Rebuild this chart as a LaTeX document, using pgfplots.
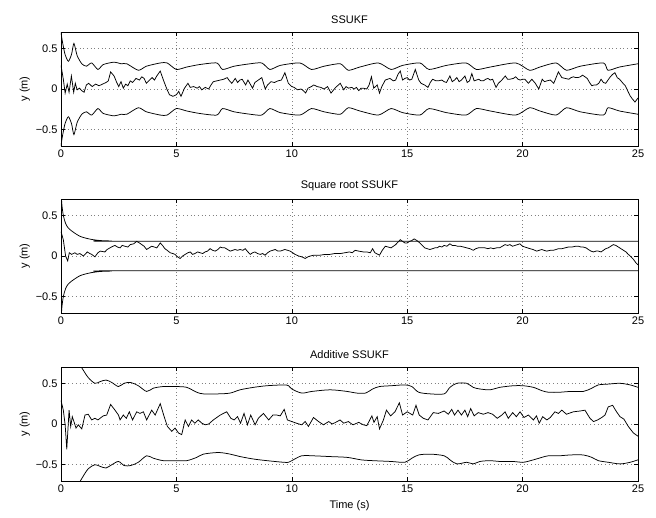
\documentclass[border=0pt]{standalone}
\usepackage{pgfplots}
\pgfplotsset{compat=1.18}
\usepackage{fontspec}
\setmainfont{Liberation Sans}

\pgfplotsset{
 cur/.style={black, line width=0.75pt, mark=none},
 myax/.style={
  width=577pt,height=114pt,scale only axis,
  xmin=0,xmax=25,ymin=-0.7,ymax=0.7,
  xtick={0,5,10,15,20,25},
  ytick={-0.5,0,0.5}, yticklabels={−0.5,0,0.5},
  grid=major, grid style={dash pattern=on 0.7pt off 3pt, black!50, line width=0.6pt},
  tick align=inside, major tick length=4pt,
  axis line style={line width=0.8pt},
  every tick/.style={black,line width=0.5pt},
  tick label style={font=\fontsize{11}{13}\selectfont},
  label style={font=\fontsize{11}{13}\selectfont},
  title style={font=\fontsize{11}{13}\selectfont, yshift=-1pt},
  /pgf/number format/assume math mode=true,
  ylabel={y (m)},
  ylabel style={yshift=-1pt},
  anchor=north west,
 }
}

\begin{document}
\begin{tikzpicture}
\useasboundingbox (-61pt,32pt) rectangle (595pt,-485pt);

%%%%%%%%%%%%%%%% SSUKF
\begin{axis}[myax, at={(0pt,0pt)}, title={SSUKF}]
\addplot[cur] table {
x y
0 0.29
0.1 0.12
0.18 -0.05
0.27 0.06
0.35 -0.04
0.45 0.16
0.55 -0.04
0.62 0.07
0.7 -0.01
0.8 0.01
0.9 -0.02
1.0 -0.04
1.1 0.05
1.2 0.07
1.35 0.03
1.5 0.06
1.65 0.04
1.8 0.06
1.95 0.08
2.05 0.1
2.15 0.21
2.3 0.16
2.4 0.09
2.5 0.03
2.6 0.09
2.7 0.01
2.8 0.06
2.9 0.04
3.0 0.1
3.1 0.08
3.25 0.13
3.4 0.11
3.5 0.15
3.6 0.13
3.7 0.07
3.8 0.1
3.95 0.14
4.05 0.11
4.15 0.16
4.3 0.22
4.45 0.1
4.6 -0.01
4.7 -0.07
4.85 -0.09
5.0 -0.07
5.1 -0.03
5.2 -0.09
5.35 0.01
5.5 0.07
5.6 0.02
5.75 0.03
5.9 0.01
6.0 0.03
6.1 -0.01
6.25 0.02
6.4 0.0
6.5 0.05
6.6 0.09
6.75 0.1
6.9 0.11
7.05 0.12
7.2 0.14
7.3 0.1
7.4 0.07
7.55 0.13
7.65 0.08
7.75 0.11
7.85 0.12
8.0 0.05
8.1 0.11
8.2 0.06
8.3 0.01
8.4 0.08
8.55 0.11
8.7 0.14
8.85 0.0
8.95 0.05
9.1 0.09
9.25 0.08
9.4 0.1
9.55 0.11
9.7 0.2
9.85 0.07
10.0 0.03
10.1 0.02
10.25 -0.01
10.4 0.0
10.5 -0.02
10.6 -0.05
10.7 0.01
10.85 0.03
10.95 0.05
11.1 0.03
11.25 0.02
11.4 0.0
11.55 0.03
11.7 -0.05
11.9 0.02
12.1 0.07
12.25 -0.01
12.35 0.03
12.45 0.01
12.6 0.02
12.7 0.0
12.8 0.02
12.9 -0.02
13.0 0.01
13.1 0.01
13.25 0.0
13.35 0.05
13.45 0.15
13.55 0.01
13.7 0.05
13.8 -0.05
13.9 0.03
14.05 0.11
14.15 0.12
14.25 0.13
14.4 0.1
14.5 0.11
14.6 0.18
14.7 0.22
14.8 0.11
14.9 0.13
15.0 0.14
15.1 0.11
15.2 0.12
15.35 0.24
15.5 0.11
15.6 0.07
15.75 0.05
15.9 0.02
16.0 0.08
16.1 0.12
16.25 0.1
16.35 0.1
16.5 0.11
16.6 0.09
16.7 0.08
16.85 0.16
16.95 0.09
17.05 0.11
17.15 0.14
17.25 0.09
17.35 0.11
17.5 0.16
17.6 0.08
17.7 0.1
17.8 0.19
17.9 0.1
18.0 0.11
18.1 0.12
18.2 0.1
18.3 0.1
18.4 0.12
18.5 0.13
18.6 0.11
18.7 0.12
18.85 0.02
18.95 0.07
19.1 0.11
19.25 0.16
19.35 0.12
19.45 0.12
19.6 0.13
19.7 0.15
19.8 0.12
19.9 0.11
20.0 0.12
20.1 0.12
20.25 0.07
20.4 0.12
20.55 0.07
20.7 0.0
20.85 0.12
20.95 0.09
21.05 0.1
21.2 0.11
21.35 0.07
21.45 0.14
21.55 0.21
21.7 0.14
21.85 0.13
22.0 0.12
22.1 0.14
22.2 0.15
22.3 0.14
22.4 0.14
22.5 0.15
22.6 0.17
22.7 0.15
22.8 0.13
22.9 0.08
23.0 0.04
23.1 0.05
23.2 0.05
23.3 0.07
23.4 0.12
23.5 0.08
23.6 0.07
23.7 0.11
23.8 0.15
23.9 0.18
24.0 0.2
24.1 0.14
24.2 0.12
24.35 0.07
24.45 0.04
24.55 -0.02
24.65 -0.08
24.75 -0.12
24.87 -0.16
25.0 -0.11
};
\addplot[cur, smooth, tension=0.4] table {
x y
0 0.70
0.05 0.6
0.17 0.43
0.32 0.34
0.46 0.43
0.56 0.56
0.7 0.41
0.9 0.31
1.1 0.28
1.33 0.32
1.6 0.24
1.83 0.3
2.3 0.33
2.6 0.31
2.85 0.31
3.35 0.23
3.7 0.28
4.3 0.32
4.6 0.32
5.0 0.24
5.45 0.27
6.0 0.3
6.75 0.32
7.0 0.24
7.5 0.28
8.2 0.31
8.7 0.32
9.05 0.24
9.5 0.29
10.35 0.32
10.85 0.24
11.4 0.28
12.1 0.31
12.45 0.23
12.95 0.27
13.75 0.32
14.3 0.24
14.8 0.29
15.55 0.32
15.95 0.24
16.7 0.29
17.55 0.32
18.0 0.24
18.6 0.27
19.7 0.32
20.3 0.23
20.75 0.27
21.45 0.32
21.9 0.23
22.5 0.28
23.5 0.32
23.7 0.23
24.2 0.27
25.0 0.31
};
\addplot[cur, smooth, tension=0.4] table {
x y
0 -0.70
0.05 -0.6
0.17 -0.43
0.32 -0.34
0.46 -0.43
0.56 -0.56
0.7 -0.41
0.9 -0.31
1.1 -0.28
1.33 -0.32
1.6 -0.24
1.83 -0.3
2.3 -0.33
2.6 -0.31
2.85 -0.31
3.35 -0.23
3.7 -0.28
4.3 -0.32
4.6 -0.32
5.0 -0.24
5.45 -0.27
6.0 -0.3
6.75 -0.32
7.0 -0.24
7.5 -0.28
8.2 -0.31
8.7 -0.32
9.05 -0.24
9.5 -0.29
10.35 -0.32
10.85 -0.24
11.4 -0.28
12.1 -0.31
12.45 -0.23
12.95 -0.27
13.75 -0.32
14.3 -0.24
14.8 -0.29
15.55 -0.32
15.95 -0.24
16.7 -0.29
17.55 -0.32
18.0 -0.24
18.6 -0.27
19.7 -0.32
20.3 -0.23
20.75 -0.27
21.45 -0.32
21.9 -0.23
22.5 -0.28
23.5 -0.32
23.7 -0.23
24.2 -0.27
25.0 -0.31
};
\end{axis}

%%%%%%%%%%%%%%%% Square root SSUKF
\begin{axis}[myax, at={(0pt,-167pt)}, title={Square root SSUKF}]
\addplot[cur] table {
x y
0 0.3
0.1 0.2
0.2 0.0
0.29 -0.06
0.36 0.04
0.46 0.02
0.6 0.04
0.7 0.02
0.82 0.03
0.97 0.0
1.14 0.05
1.25 0.03
1.33 0.02
1.47 -0.01
1.6 0.04
1.7 0.06
1.9 0.05
2.0 0.08
2.12 0.1
2.25 0.12
2.34 0.13
2.45 0.11
2.56 0.1
2.65 0.13
2.77 0.12
2.9 0.11
3.0 0.14
3.15 0.15
3.28 0.18
3.4 0.16
3.5 0.14
3.6 0.12
3.71 0.08
3.82 0.1
3.93 0.12
4.05 0.11
4.15 0.1
4.3 0.16
4.4 0.13
4.5 0.09
4.6 0.07
4.73 0.04
4.85 0.03
4.94 0.02
5.05 -0.01
5.16 -0.03
5.27 0.0
5.38 0.02
5.5 0.04
5.6 0.05
5.7 0.02
5.8 0.03
5.92 0.05
6.03 0.04
6.14 0.03
6.24 0.05
6.35 0.06
6.46 0.09
6.57 0.07
6.68 0.06
6.8 0.08
6.9 0.11
7.0 0.1
7.1 0.1
7.22 0.08
7.33 0.06
7.44 0.07
7.54 0.08
7.65 0.07
7.76 0.08
7.88 0.07
7.98 0.09
8.1 0.05
8.2 0.02
8.3 0.04
8.4 0.05
8.52 0.03
8.63 0.02
8.74 0.03
8.84 0.01
8.95 0.04
9.06 0.06
9.17 0.07
9.28 0.08
9.4 0.06
9.5 0.06
9.6 0.07
9.7 0.08
9.82 0.07
9.93 0.06
10.04 0.04
10.14 0.02
10.3 0.0
10.43 -0.01
10.58 -0.03
10.7 -0.01
10.8 0.0
10.95 0.01
11.08 0.01
11.22 0.01
11.45 0.02
11.65 0.02
11.85 0.03
12.1 0.03
12.3 0.04
12.5 0.05
12.62 0.04
12.74 0.07
12.9 0.06
13.1 0.05
13.25 0.05
13.4 0.04
13.5 0.09
13.6 0.04
13.8 0.01
13.92 0.07
14.05 0.12
14.18 0.11
14.3 0.1
14.4 0.12
14.5 0.14
14.6 0.17
14.7 0.2
14.8 0.18
14.9 0.16
15.0 0.16
15.1 0.18
15.2 0.19
15.3 0.21
15.42 0.19
15.55 0.16
15.65 0.13
15.76 0.1
15.87 0.09
15.98 0.08
16.1 0.09
16.2 0.1
16.3 0.1
16.4 0.12
16.5 0.11
16.6 0.13
16.72 0.12
16.85 0.15
16.95 0.13
17.07 0.13
17.18 0.12
17.3 0.12
17.45 0.11
17.58 0.1
17.72 0.09
17.86 0.07
17.97 0.09
18.08 0.1
18.2 0.1
18.37 0.1
18.5 0.09
18.62 0.1
18.73 0.09
18.87 0.1
19.0 0.1
19.12 0.12
19.24 0.14
19.35 0.13
19.45 0.14
19.56 0.12
19.67 0.13
19.78 0.14
19.88 0.15
20.0 0.12
20.1 0.11
20.21 0.1
20.32 0.09
20.45 0.08
20.61 0.06
20.72 0.07
20.83 0.08
20.93 0.07
21.04 0.06
21.2 0.07
21.33 0.07
21.45 0.08
21.55 0.09
21.7 0.09
21.84 0.1
21.98 0.11
22.13 0.11
22.3 0.12
22.42 0.12
22.53 0.11
22.63 0.11
22.75 0.1
22.85 0.08
22.96 0.06
23.07 0.05
23.18 0.06
23.28 0.06
23.4 0.05
23.5 0.07
23.6 0.09
23.71 0.1
23.82 0.12
23.93 0.14
24.04 0.13
24.15 0.11
24.26 0.09
24.37 0.07
24.48 0.05
24.58 0.02
24.7 -0.01
24.8 -0.04
24.9 -0.08
25.0 -0.11
};
\addplot[cur, smooth] table {
x y
0 0.9
0.03 0.66
0.1 0.5
0.2 0.4
0.3 0.35
0.45 0.31
0.6 0.28
0.8 0.245
1.0 0.225
1.3 0.205
1.7 0.19
2.2 0.185
3.0 0.182
25 0.18
};
\addplot[cur, smooth] table {
x y
0 -0.9
0.03 -0.66
0.1 -0.5
0.2 -0.4
0.3 -0.35
0.45 -0.31
0.6 -0.28
0.8 -0.245
1.0 -0.225
1.3 -0.205
1.7 -0.19
2.2 -0.185
3.0 -0.182
25 -0.18
};
\end{axis}

%%%%%%%%%%%%%%%% Additive SSUKF
\begin{axis}[myax, at={(0pt,-335pt)}, title={Additive SSUKF}, xlabel={Time (s)}, xlabel style={yshift=-1pt}]
\addplot[cur] table {
x y
0 0.29
0.1 0.17
0.18 -0.01
0.25 -0.31
0.35 0.17
0.42 -0.03
0.49 0.09
0.56 0.03
0.65 -0.05
0.75 -0.01
0.9 -0.06
1.04 0.11
1.18 0.12
1.33 0.05
1.47 0.07
1.6 0.05
1.83 0.1
1.98 0.11
2.15 0.24
2.34 0.17
2.49 0.11
2.56 0.05
2.7 0.11
2.83 0.07
2.96 0.15
3.1 0.05
3.28 0.15
3.42 0.13
3.57 0.15
3.71 0.05
3.93 0.17
4.08 0.11
4.3 0.25
4.47 0.09
4.61 -0.03
4.8 -0.09
4.94 -0.05
5.09 -0.11
5.23 -0.13
5.38 0.05
5.52 -0.03
5.66 0.05
5.8 0.01
5.95 0.05
6.1 0.01
6.25 -0.01
6.4 0.0
6.6 0.05
6.9 0.11
7.18 0.15
7.36 0.07
7.5 0.05
7.65 0.09
7.78 0.01
7.93 0.13
8.08 -0.01
8.22 0.11
8.41 -0.01
8.55 0.07
8.77 0.13
9.0 0.05
9.18 0.11
9.35 0.11
9.5 0.1
9.67 0.18
9.81 0.05
10.0 0.03
10.2 0.01
10.43 -0.01
10.58 0.03
10.72 -0.03
10.94 0.08
11.16 0.03
11.37 -0.01
11.6 0.03
11.75 0.0
11.9 0.02
12.09 0.05
12.25 0.01
12.45 0.03
12.65 -0.01
12.9 0.02
13.1 -0.01
13.25 -0.02
13.47 0.1
13.56 0.02
13.7 0.09
13.8 -0.06
13.97 0.05
14.1 0.17
14.28 0.1
14.47 0.15
14.66 0.26
14.8 0.11
15.0 0.15
15.24 0.11
15.38 0.23
15.52 0.11
15.7 0.07
15.9 0.05
16.13 0.14
16.35 0.13
16.6 0.16
16.78 0.12
16.93 0.18
17.05 0.11
17.2 0.17
17.35 0.11
17.5 0.17
17.62 0.09
17.75 0.19
17.9 0.1
18.08 0.14
18.3 0.12
18.5 0.14
18.7 0.12
18.9 0.07
19.1 0.11
19.24 0.15
19.38 0.07
19.57 0.14
19.73 0.09
19.89 0.15
20.06 0.08
20.25 0.11
20.47 0.05
20.6 0.1
20.72 0.01
20.87 0.09
21.05 0.05
21.2 0.08
21.4 0.15
21.55 0.13
21.7 0.17
21.9 0.12
22.2 0.15
22.5 0.16
22.7 0.17
22.92 0.07
23.07 0.03
23.25 0.05
23.43 0.08
23.57 0.11
23.71 0.21
23.9 0.23
24.07 0.15
24.22 0.09
24.39 0.06
24.58 -0.03
24.8 -0.11
25.0 -0.15
};
\addplot[cur, smooth, tension=0.5] table {
x y
0.3 1.0
0.6 0.82
0.9 0.69
1.18 0.57
1.47 0.5
1.69 0.52
1.95 0.54
2.2 0.51
2.49 0.46
2.73 0.5
3.02 0.51
3.35 0.47
3.71 0.4
4.0 0.44
4.43 0.46
5.01 0.46
5.45 0.45
5.88 0.39
6.17 0.37
6.82 0.37
7.33 0.38
7.76 0.42
8.34 0.45
8.92 0.47
9.64 0.48
9.86 0.47
10.0 0.43
10.43 0.38
10.87 0.4
11.66 0.42
12.4 0.4
12.8 0.38
13.2 0.38
13.5 0.43
13.8 0.46
14.3 0.47
14.9 0.48
15.2 0.46
15.5 0.39
16.0 0.37
16.6 0.37
16.85 0.45
17.15 0.5
17.58 0.5
17.86 0.45
18.15 0.43
18.6 0.42
19.0 0.45
19.6 0.47
20.03 0.47
20.47 0.45
20.83 0.41
21.12 0.39
21.62 0.39
22.05 0.4
22.63 0.4
23.0 0.44
23.28 0.48
23.71 0.49
24.22 0.5
24.66 0.48
25.0 0.45
};
\addplot[cur, smooth, tension=0.5] table {
x y
0.3 -1.0
0.6 -0.82
0.9 -0.67
1.18 -0.55
1.47 -0.5
1.69 -0.52
1.95 -0.54
2.2 -0.5
2.49 -0.46
2.73 -0.51
3.02 -0.51
3.35 -0.47
3.71 -0.39
4.0 -0.42
4.43 -0.45
5.01 -0.45
5.45 -0.45
5.88 -0.41
6.17 -0.37
6.82 -0.35
7.33 -0.37
7.76 -0.4
8.34 -0.43
8.92 -0.45
9.64 -0.47
9.86 -0.47
10.0 -0.45
10.43 -0.39
10.87 -0.39
11.66 -0.4
12.4 -0.41
13.0 -0.44
13.5 -0.45
14.3 -0.46
14.9 -0.47
15.2 -0.42
15.5 -0.38
16.0 -0.37
16.6 -0.39
16.85 -0.44
17.15 -0.49
17.58 -0.47
17.86 -0.49
18.15 -0.46
18.6 -0.45
19.0 -0.46
19.6 -0.46
20.03 -0.47
20.47 -0.44
20.83 -0.41
21.12 -0.39
21.62 -0.39
22.05 -0.38
22.63 -0.38
23.0 -0.41
23.28 -0.45
23.71 -0.47
24.22 -0.49
24.66 -0.47
25.0 -0.44
};
\end{axis}
\end{tikzpicture}
\end{document}
